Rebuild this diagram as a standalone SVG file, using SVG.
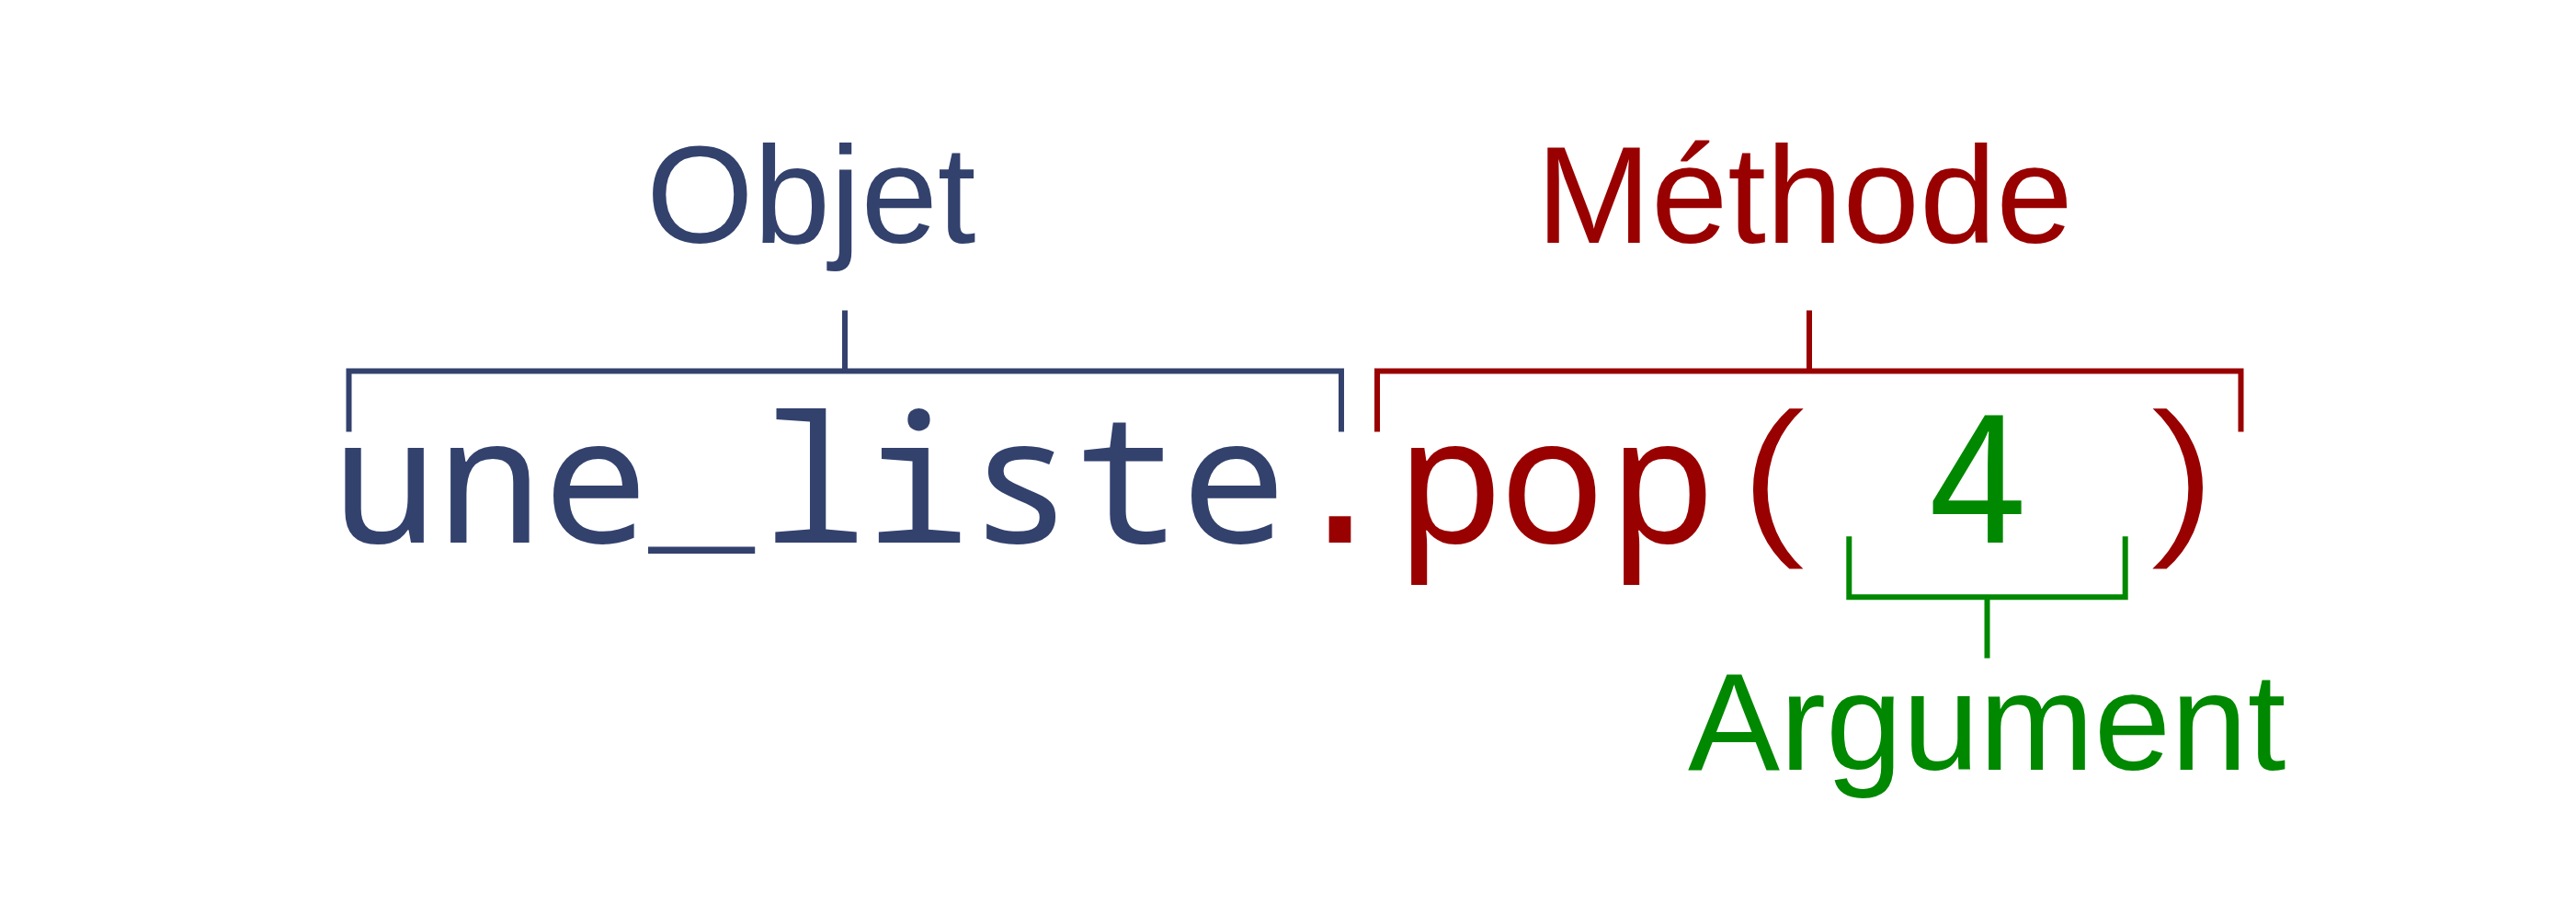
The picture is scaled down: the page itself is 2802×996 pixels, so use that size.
<svg xmlns="http://www.w3.org/2000/svg" width="2802" height="996" viewBox="0 0 2802 996">
  <style>
    .lbl { font-family: "Liberation Sans", Arial, sans-serif; font-size: 150px; }
    .code { font-family: "Noto Sans Mono", "Droid Sans Mono", "Open Sans", sans-serif; font-size: 192px; text-anchor: middle; }
    .paren { font-family: "Noto Sans Mono", "Droid Sans Mono", "Open Sans", sans-serif; font-size: 200px; font-weight: 300; text-anchor: middle; }
    .mono { font-family: "DejaVu Sans Mono", monospace; font-size: 193px; }
    .navy { fill: #33416D; }
    .red { fill: #990000; }
    .green { fill: #008800; }
    .br { fill: none; stroke-width: 6; stroke-linejoin: miter; stroke-linecap: butt; }
  </style>
  <rect x="0" y="0" width="2802" height="996" fill="#ffffff"/>

  <g id="code">
    <text class="code navy" y="590"><tspan x="418.7">u</tspan><tspan x="532.3">n</tspan><tspan x="648">e</tspan><tspan x="885.5">l</tspan><tspan x="998">i</tspan><tspan x="1110.5">s</tspan><tspan x="1226">t</tspan><tspan x="1342">e</tspan></text>
    <text class="mono navy" x="705" y="557">_</text>
    <text class="mono red" x="1457.5" y="590" text-anchor="middle">.</text>
    <text class="code red" y="590"><tspan x="1577.3">p</tspan><tspan x="1688.3">o</tspan><tspan x="1808.3">p</tspan></text>
    <text class="paren red" x="0" y="587" transform="translate(1931 0) scale(1.35 1)">(</text>
    <text class="paren red" x="0" y="587" transform="translate(2372 0) scale(1.35 1)">)</text>
    <text class="code green" y="590" x="2150.5">4</text>
  </g>

  <g id="objet">
    <text class="lbl navy" x="703" y="264">Objet</text>
  </g>
  <g id="methode">
    <text class="lbl red" x="1671" y="264">Méthode</text>
  </g>
  <g id="argument">
    <text class="lbl green" x="1836" y="837">Argument</text>
  </g>

  <g id="connectors">
    <path class="br" stroke="#33416D" d="M379.5 469.6 V403.5 H1459 V469.6"/>
    <path class="br" stroke="#33416D" d="M919 337.5 V403.5"/>
    <path class="br" stroke="#990000" d="M1498 469.6 V403.5 H2437.5 V469.6"/>
    <path class="br" stroke="#990000" d="M1968 337.5 V403.5"/>
    <path class="br" stroke="#008800" d="M2011.3 583.3 V649.3 H2311.7 V583.3"/>
    <path class="br" stroke="#008800" d="M2161.5 649.3 V715.7"/>
  </g>
</svg>
